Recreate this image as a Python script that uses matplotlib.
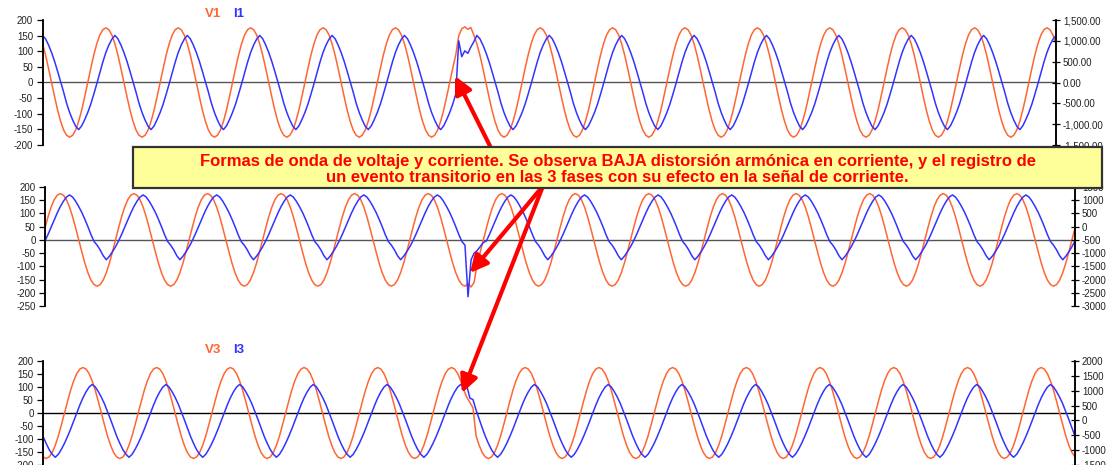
import numpy as np
import matplotlib
matplotlib.use('Agg')
import matplotlib.pyplot as plt
from matplotlib.patches import Rectangle
from matplotlib.ticker import FuncFormatter, MultipleLocator

plt.rcParams['font.family'] = ['Liberation Sans', 'DejaVu Sans']
plt.rcParams['axes.unicode_minus'] = False

# one cycle of each waveform (24 samples per cycle, 15 deg steps, from the peak)
v_cycle = [175, 169, 152, 124, 88, 45, 0, -45, -88, -124, -152, -169,
           -175, -169, -152, -124, -88, -45, 0, 45, 88, 124, 152, 169]
i1_cycle = [1130, 1050, 900, 720, 510, 270, 20, -230, -500, -720, -900, -1050,
            -1130, -1040, -890, -720, -520, -280, -30, 230, 490, 720, 900, 1040]
i2_cycle = [1200, 1120, 960, 760, 540, 280, 0, -300, -560, -700, -880, -1100,
            -1250, -1120, -950, -760, -540, -290, -20, 260, 520, 760, 960, 1120]
i3_cycle = [1210, 1130, 970, 780, 560, 300, 30, -250, -530, -770, -980, -1140,
            -1240, -1140, -970, -770, -540, -290, -20, 250, 520, 760, 960, 1120]

n_samples = 337          # 14 cycles shown
# sample of the cycle at the left edge of each panel
v_start = [3, 19, 11]
i_start = [0, 16, 8]

# transient event (same instant in the 3 phases)
event_at = 138
v1_event = [150, 172, 178, 170, 176]
i1_event = [1000, 620, 760, 700, 850, 980, 1130]
v2_event = [-165, -178, -160]
i2_event = [-2650, -1250, -1000, -900, -750, -600]
v3_event = [60, 40, 20]
i3_event = [1150, 750, 700, 350, 50]

# axis ranges per panel (voltage left, current right)
v_lims = [(-200, 200), (-250, 200), (-200, 200)]
i_lims = [(-1500, 1500), (-3000, 1500), (-1500, 2000)]
titles = [('V1', 'I1'), (None, None), ('V3', 'I3')]

note = ("Formas de onda de voltaje y corriente. Se observa BAJA distorsión armónica en corriente, y el registro de\n"
        "un evento transitorio en las 3 fases con su efecto en la señal de corriente.")

V_COLOR = '#FF6633'
I_COLOR = '#3333FF'
W, H = 1114, 465


def build(cycle, start, event):
    idx = (np.arange(n_samples) + start) % len(cycle)
    s = np.asarray(cycle, dtype=float)[idx]
    s[event_at:event_at + len(event)] = event
    return s


volts = [build(v_cycle, v_start[0], v1_event),
         build(v_cycle, v_start[1], v2_event),
         build(v_cycle, v_start[2], v3_event)]
amps = [build(i1_cycle, i_start[0], i1_event),
        build(i2_cycle, i_start[1], i2_event),
        build(i3_cycle, i_start[2], i3_event)]

# panel boxes in pixels: left, right, top, bottom
boxes = [(42.5, 1056, 20, 145), (45, 1075, 187, 306), (43, 1075, 361, 465)]
zero_colors = ['#555555', '#555555', '#000000']

fig = plt.figure(figsize=(W / 100, H / 100), dpi=100)
x = np.arange(n_samples)

for k in range(3):
    l, r, t, b = boxes[k]
    ax = fig.add_axes([l / W, 1 - b / H, (r - l) / W, (b - t) / H])
    ax.set_facecolor('none')
    ax.plot(x, volts[k], color=V_COLOR, lw=1.1)
    ax.axhline(0, color=zero_colors[k], lw=1.0, zorder=0)
    ax.set_xlim(0, n_samples - 1)
    ax.set_ylim(*v_lims[k])
    ax.yaxis.set_major_locator(MultipleLocator(50))
    ax.set_xticks([])
    ax.tick_params(axis='y', direction='out', length=4.3, width=0.9, pad=2.5,
                   labelsize=7, labelcolor='#222222')

    ax2 = ax.twinx()
    ax2.plot(x, amps[k], color=I_COLOR, lw=1.1)
    ax2.set_ylim(*i_lims[k])
    ax2.yaxis.set_major_locator(MultipleLocator(500))
    ax2.tick_params(axis='y', direction='inout', length=6, width=0.9, pad=2,
                    labelsize=7, labelcolor='#222222')
    if k == 0:
        ax2.yaxis.set_major_formatter(FuncFormatter(lambda v, p: f'{v:,.2f}'))
    else:
        ax2.yaxis.set_major_formatter(FuncFormatter(lambda v, p: f'{v:.0f}'))

    for a in (ax, ax2):
        a.spines['top'].set_visible(False)
        a.spines['bottom'].set_visible(False)
        a.spines['left'].set_linewidth(1.1)
        a.spines['right'].set_linewidth(1.1)

# overlay in pixel coordinates for titles, note box and arrows
ov = fig.add_axes([0, 0, 1, 1], zorder=10)
ov.set_xlim(0, W)
ov.set_ylim(H, 0)
ov.axis('off')
ov.patch.set_alpha(0)

title_y = [14, None, 350]
for k in range(3):
    if titles[k][0] is None:
        continue
    ov.text(205, title_y[k], titles[k][0], color=V_COLOR, fontsize=9.5, fontweight='bold', va='center')
    ov.text(233, title_y[k], titles[k][1], color=I_COLOR, fontsize=9.5, fontweight='bold', va='center')

# arrows
arrow_kw = dict(arrowstyle='-|>', color='red', lw=3, mutation_scale=26, shrinkA=0, shrinkB=0)
ov.annotate('', xy=(455, 76), xytext=(492, 150), arrowprops=arrow_kw)
ov.annotate('', xy=(470, 273), xytext=(543, 186), arrowprops=arrow_kw)
ov.annotate('', xy=(462, 393), xytext=(543, 186), arrowprops=arrow_kw)

ov.add_patch(Rectangle((133, 147), 969, 41, facecolor='#FFFF99', edgecolor='#333333', lw=1.6, zorder=5))
ov.text(617.5, 169.5, note, color='#FF0000', fontsize=12, fontweight='bold',
        ha='center', va='center', linespacing=1.05, zorder=6)

fig.savefig('out.png', dpi=100)
